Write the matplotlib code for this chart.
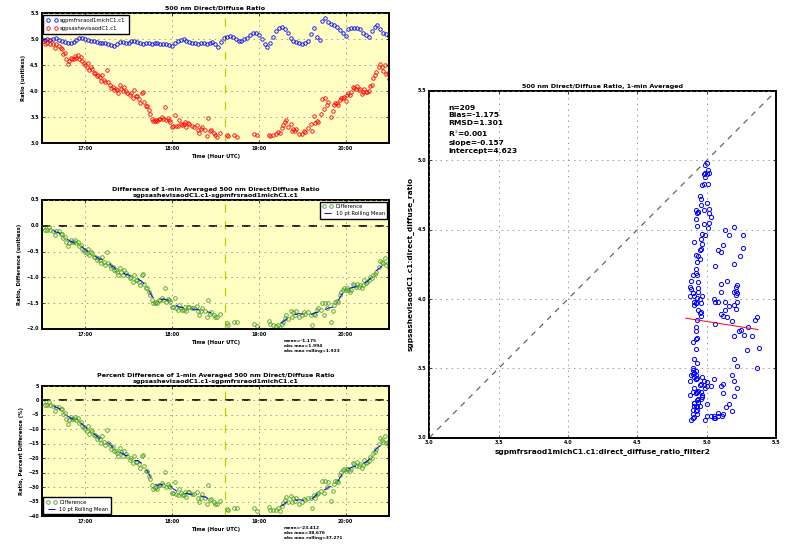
import numpy as np
import pandas as pd
import matplotlib
matplotlib.use('Agg')
import matplotlib.pyplot as plt
from matplotlib.ticker import FuncFormatter, MultipleLocator

## raw 500 nm direct/diffuse ratio from the MFRSR (minutes after 16:30 UTC)
raw_min = list(range(0, 241, 2))
raw_mfrsr = [5.00, 4.99, 5.01, 4.98, 5.00, 5.02, 4.99, 4.97, 4.95, 4.93,
             4.92, 4.94, 4.98, 5.02, 5.03, 5.01, 4.98, 4.97, 4.96, 4.95,
             4.93, 4.92, 4.93, 4.90, 4.89, 4.88, 4.91, 4.94, 4.95, 4.93,
             4.92, 4.96, 4.97, 4.95, 4.92, 4.91, 4.93, 4.92, 4.91, 4.93,
             4.92, 4.91, 4.90, 4.91, 4.89, 4.88, 4.93, 4.96, 4.98, 5.00,
             4.97, 4.95, 4.93, 4.92, 4.91, 4.93, 4.92, 4.90, 4.93, 4.95,
             4.91, 4.86, 4.95, 5.02, 5.05, 5.06, 5.04, 5.00, 4.97, 4.96,
             5.00, 5.03, 5.08, 5.12, 5.13, 5.09, 5.00, 4.90, 4.85, 4.93,
             5.05, 5.15, 5.22, 5.24, 5.20, 5.12, 5.03, 4.96, 4.94, 4.93,
             4.90, 4.92, 4.97, 5.10, 5.22, 5.05, 4.98, 5.35, 5.40, 5.33,
             5.30, 5.27, 5.23, 5.18, 5.12, 5.06, 5.20, 5.22, 5.21, 5.22,
             5.20, 5.13, 5.08, 5.05, 5.15, 5.24, 5.27, 5.20, 5.12, 5.10,
             5.06]

## 1-min averaged values (minutes after 16:30 UTC)
t1 = [1, 2, 4, 5, 6, 8, 9, 10, 12, 13, 14, 15, 16, 17, 18, 19, 20, 21, 22, 23,
      24, 25, 26, 27, 28, 29, 30, 31, 32, 33, 34, 35, 36, 37, 38, 39, 40, 41, 42, 43,
      44, 45, 46, 47, 48, 49, 50, 51, 52, 53, 54, 55, 56, 57, 58, 59, 61, 62, 63, 64,
      65, 66, 67, 68, 69, 70, 71, 72, 73, 74, 75, 76, 77, 78, 79, 80, 81, 82, 83, 84,
      85, 86, 87, 88, 89, 90, 91, 92, 93, 94, 95, 96, 97, 98, 99, 100, 101, 102, 104, 105,
      107, 108, 109, 110, 111, 113, 114, 115, 116, 117, 119, 120, 121, 123, 128, 129, 133, 135, 147, 149,
      157, 158, 160, 162, 163, 165, 166, 167, 168, 169, 170, 172, 173, 174, 175, 176, 178, 180, 181, 182,
      184, 186, 187, 188, 189, 190, 191, 193, 194, 195, 196, 197, 198, 200, 201, 202, 203, 204, 205, 206,
      207, 208, 209, 210, 211, 212, 213, 214, 215, 216, 217, 218, 219, 220, 221, 222, 223, 224, 225, 226,
      227, 228, 229, 230, 231, 233, 234, 235, 236, 237, 238, 239, 240]
mfrsr1 = [4.99, 4.99, 5.01, 5.00, 4.98, 5.00, 5.01, 5.02, 4.99, 4.98, 4.97, 4.96, 4.95, 4.94, 4.93, 4.92, 4.92, 4.93, 4.94, 4.96,
          4.98, 5.00, 5.02, 5.02, 5.03, 5.02, 5.01, 4.99, 4.98, 4.97, 4.97, 4.96, 4.96, 4.95, 4.95, 4.94, 4.93, 4.92, 4.92, 4.92,
          4.93, 4.91, 4.90, 4.89, 4.89, 4.88, 4.88, 4.90, 4.91, 4.92, 4.94, 4.94, 4.95, 4.94, 4.93, 4.92, 4.94, 4.96, 4.96, 4.97,
          4.96, 4.95, 4.93, 4.92, 4.91, 4.91, 4.92, 4.93, 4.92, 4.92, 4.91, 4.91, 4.92, 4.93, 4.92, 4.92, 4.91, 4.91, 4.90, 4.90,
          4.90, 4.91, 4.90, 4.89, 4.88, 4.88, 4.90, 4.93, 4.94, 4.96, 4.97, 4.98, 4.99, 5.00, 4.98, 4.97, 4.96, 4.95, 4.93, 4.92,
          4.91, 4.91, 4.92, 4.93, 4.92, 4.91, 4.90, 4.92, 4.93, 4.94, 4.93, 4.91, 4.89, 4.90, 5.05, 5.06, 5.03, 4.99, 5.08, 5.11,
          5.00, 5.05, 5.08, 5.12, 5.14, 5.18, 5.20, 5.22, 5.20, 5.18, 5.12, 5.03, 5.00, 4.96, 4.95, 4.94, 4.93, 4.90, 4.91, 4.92,
          4.97, 5.10, 5.16, 5.22, 5.12, 5.05, 5.00, 5.20, 5.35, 5.38, 5.36, 5.33, 5.30, 5.36, 5.29, 5.27, 5.25, 5.23, 5.20, 5.18,
          5.15, 5.12, 5.10, 5.06, 5.13, 5.20, 5.21, 5.22, 5.21, 5.21, 5.22, 5.22, 5.21, 5.20, 5.16, 5.13, 5.10, 5.08, 5.06, 5.05,
          5.10, 5.15, 5.20, 5.24, 5.26, 5.26, 5.20, 5.16, 5.12, 5.13, 5.10, 5.08, 5.06]
sashe1 = [4.97, 4.91, 4.93, 4.98, 4.90, 4.90, 4.83, 4.91, 4.88, 4.83, 4.82, 4.72, 4.74, 4.63, 4.53, 4.58, 4.64, 4.62, 4.63, 4.68,
          4.64, 4.69, 4.62, 4.65, 4.59, 4.55, 4.51, 4.46, 4.54, 4.40, 4.47, 4.43, 4.36, 4.35, 4.29, 4.31, 4.27, 4.19, 4.32, 4.22,
          4.17, 4.41, 4.17, 4.13, 4.07, 4.09, 4.02, 4.04, 4.02, 3.97, 4.12, 4.05, 4.00, 4.08, 4.01, 3.97, 3.92, 3.97, 3.88, 4.02,
          3.91, 3.90, 3.85, 3.77, 3.96, 3.98, 3.80, 3.72, 3.71, 3.64, 3.57, 3.47, 3.42, 3.43, 3.45, 3.42, 3.47, 3.47, 3.50, 3.46,
          3.69, 3.44, 3.49, 3.45, 3.41, 3.31, 3.33, 3.54, 3.34, 3.33, 3.44, 3.38, 3.36, 3.37, 3.41, 3.31, 3.39, 3.38, 3.33, 3.32,
          3.36, 3.25, 3.19, 3.27, 3.32, 3.25, 3.14, 3.48, 3.23, 3.26, 3.20, 3.15, 3.13, 3.20, 3.16, 3.14, 3.16, 3.13, 3.18, 3.16,
          3.16, 3.14, 3.16, 3.17, 3.22, 3.19, 3.30, 3.36, 3.41, 3.45, 3.32, 3.37, 3.24, 3.28, 3.23, 3.28, 3.17, 3.17, 3.23, 3.22,
          3.29, 3.37, 3.24, 3.52, 3.39, 3.42, 3.40, 3.57, 3.85, 3.65, 3.87, 3.73, 3.80, 3.50, 3.63, 3.74, 3.78, 3.77, 3.73, 3.84,
          3.87, 3.88, 3.89, 3.82, 3.92, 3.96, 3.93, 3.98, 4.09, 4.06, 4.04, 4.10, 4.03, 4.05, 3.95, 3.98, 4.05, 3.98, 3.98, 4.00,
          4.11, 4.13, 4.25, 4.31, 4.37, 4.46, 4.52, 4.46, 4.39, 4.50, 4.34, 4.35, 4.24]

stats_diff = 'mean=-1.175\nabs max=1.994\nabs max rolling=1.923'
stats_pct = 'mean=-23.412\nabs max=38.676\nabs max rolling=37.271'
stats_scatter = 'n=209\nBias=-1.175\nRMSD=1.301\nR$^2$=0.001\nslope=-0.157\nintercept=4.623'
fit_slope, fit_intercept = -0.157, 4.623
marker_time = 126.5   # vertical reference line, minutes after 16:30

plt.style.use('classic')
plt.rcParams['font.family'] = ['DejaVu Sans']
plt.rcParams['font.weight'] = 'bold'
plt.rcParams['axes.linewidth'] = 1.4
plt.rcParams['xtick.labelsize'] = 3.4
plt.rcParams['ytick.labelsize'] = 3.4
plt.rcParams['xtick.major.size'] = 2
plt.rcParams['ytick.major.size'] = 2
plt.rcParams['xtick.major.pad'] = 2
plt.rcParams['ytick.major.pad'] = 2

yellow_bg = '#ffffc4'
green = '#4aa02a'

# derived quantities, computed as in the original processing
h_raw = 16.5 + np.array(raw_min) / 60.0
h1 = 16.5 + np.array(t1) / 60.0
x1 = np.array(mfrsr1)
y1 = np.array(sashe1)
diff = y1 - x1
pct = diff / x1 * 100.0
tt = pd.Series(t1, dtype=float)
span = tt.rolling(10, center=True).max() - tt.rolling(10, center=True).min()
roll = pd.Series(diff).rolling(10, center=True).mean()
roll[span > 14] = np.nan
roll_pct = pd.Series(pct).rolling(10, center=True).mean()
roll_pct[span > 14] = np.nan

W, H = 789.0, 546.0
fig = plt.figure(figsize=(7.89, 5.46), dpi=100)
fig.patch.set_facecolor('white')


def px_axes(x0, y0, x1_, y1_, **kw):
    return fig.add_axes([x0 / W, 1 - y1_ / H, (x1_ - x0) / W, (y1_ - y0) / H], **kw)


hour_fmt = FuncFormatter(lambda v, p: '%d:00' % round(v))


def time_axes(ax):
    ax.set_facecolor(yellow_bg)
    ax.set_xlim(16.5, 20.5)
    ax.xaxis.set_major_locator(MultipleLocator(1))
    ax.xaxis.set_major_formatter(hour_fmt)
    ax.grid(True, color='#888888', linestyle=':', linewidth=0.6)
    ax.axvline(16.5 + marker_time / 60.0, color='#c8c800', linestyle='--', linewidth=0.9)
    ax.set_xlabel('Time (Hour UTC)', fontsize=3.8, fontweight='bold', labelpad=2)


# ---- top: raw ratio
ax1 = px_axes(41.7, 13.3, 389, 143.3)
time_axes(ax1)
ax1.plot(h_raw, raw_mfrsr, 'o', mfc='none', mec='blue', ms=2.5, mew=0.6, label='sgpmfrsraod1michC1.c1')
ax1.plot(h1, sashe1, 'o', mfc='none', mec='red', ms=2.5, mew=0.6, label='sgpsashevisaodC1.c1')
ax1.set_ylim(3.0, 5.5)
ax1.yaxis.set_major_locator(MultipleLocator(0.5))
ax1.set_title('500 nm Direct/Diffuse Ratio', fontsize=4.6, fontweight='bold', pad=2.5)
ax1.set_ylabel('Ratio (unitless)', fontsize=3.8, fontweight='bold', labelpad=3)
ax1.legend(loc='upper left', numpoints=2, prop={'size': 3.9, 'weight': 'normal'},
           borderpad=0.6, handletextpad=0.5, labelspacing=0.5, borderaxespad=0.3)

# ---- middle: difference
ax2 = px_axes(41.7, 200, 389, 329)
time_axes(ax2)
ax2.axhline(0, color='black', linestyle='--', linewidth=1.2)
ax2.plot(h1, diff, 'o', mfc='none', mec=green, ms=2.6, mew=0.6, label='Difference')
ax2.plot(h1, roll, '--', color='blue', linewidth=0.7, label='10 pt Rolling Mean')
ax2.set_ylim(-2.0, 0.5)
ax2.yaxis.set_major_locator(MultipleLocator(0.5))
ax2.set_title('Difference of 1-min Averaged 500 nm Direct/Diffuse Ratio\n'
              'sgpsashevisaodC1.c1-sgpmfrsraod1michC1.c1',
              fontsize=4.6, fontweight='bold', pad=2.5, linespacing=1.1)
ax2.set_ylabel('Ratio, Difference (unitless)', fontsize=3.8, fontweight='bold', labelpad=3)
ax2.legend(loc='upper right', numpoints=2, prop={'size': 3.8, 'weight': 'normal'},
           borderpad=0.5, handletextpad=0.5, labelspacing=0.4, borderaxespad=0.3, handlelength=2)
fig.text(284 / W, 1 - 339 / H, stats_diff, fontsize=3.2, fontweight='bold', va='top', ha='left', linespacing=1.3)

# ---- bottom: percent difference
ax3 = px_axes(41.7, 386, 389, 516)
time_axes(ax3)
ax3.axhline(0, color='black', linestyle='--', linewidth=1.2)
ax3.plot(h1, pct, 'o', mfc='none', mec=green, ms=2.6, mew=0.6, label='Difference')
ax3.plot(h1, roll_pct, '--', color='blue', linewidth=0.7, label='10 pt Rolling Mean')
ax3.set_ylim(-40, 5)
ax3.yaxis.set_major_locator(MultipleLocator(5))
ax3.set_title('Percent Difference of 1-min Averaged 500 nm Direct/Diffuse Ratio\n'
              'sgpsashevisaodC1.c1-sgpmfrsraod1michC1.c1',
              fontsize=4.6, fontweight='bold', pad=2.5, linespacing=1.1)
ax3.set_ylabel('Ratio, Percent Difference (%)', fontsize=3.8, fontweight='bold', labelpad=3)
ax3.legend(loc='lower left', numpoints=2, prop={'size': 3.8, 'weight': 'normal'},
           borderpad=0.5, handletextpad=0.5, labelspacing=0.4, borderaxespad=0.3, handlelength=2)
fig.text(284 / W, 1 - 526 / H, stats_pct, fontsize=3.2, fontweight='bold', va='top', ha='left', linespacing=1.3)

# ---- right: scatter of 1-min averages
ax4 = px_axes(429.3, 91, 776, 437.7)
ax4.set_facecolor('white')
ax4.plot([3.0, 5.5], [3.0, 5.5], '--', color='#555555', linewidth=0.8, dashes=(4, 4))
ax4.plot(x1, y1, 'o', mfc='none', mec='blue', ms=3.0, mew=0.7)
fx = np.array([4.85, 5.37])
ax4.plot(fx, fit_slope * fx + fit_intercept, '-', color='red', linewidth=0.7)
ax4.set_xlim(3.0, 5.5)
ax4.set_ylim(3.0, 5.5)
ax4.xaxis.set_major_locator(MultipleLocator(0.5))
ax4.yaxis.set_major_locator(MultipleLocator(0.5))
ax4.grid(True, color='#888888', linestyle=':', linewidth=0.6)
ax4.set_title('500 nm Direct/Diffuse Ratio, 1-min Averaged', fontsize=4.6, fontweight='bold', pad=2)
ax4.set_xlabel('sgpmfrsraod1michC1.c1:direct_diffuse_ratio_filter2', fontsize=5.3, fontweight='bold', labelpad=2)
ax4.set_ylabel('sgpsashevisaodC1.c1:direct_diffuse_ratio', fontsize=5.3, fontweight='bold', labelpad=3)
ax4.text(0.055, 0.96, stats_scatter, transform=ax4.transAxes, fontsize=5.4, fontweight='bold',
         va='top', ha='left', linespacing=1.3)

fig.savefig('out.png', dpi=100)
